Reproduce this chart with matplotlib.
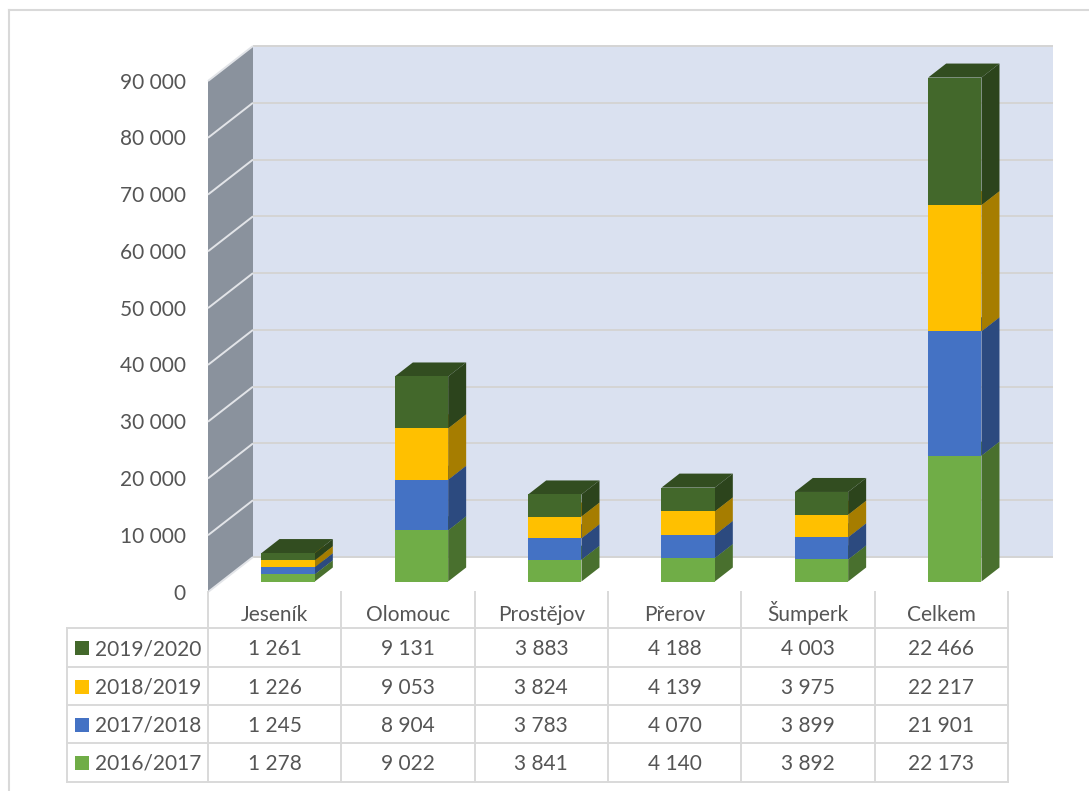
# plot.py
# 3D-look stacked columns (Excel style) with a data table underneath

import numpy as np
import matplotlib.pyplot as plt
import matplotlib.colors as mcolors
from matplotlib.patches import Polygon, Rectangle
from matplotlib.lines import Line2D

regions = ['Jeseník', 'Olomouc', 'Prostějov', 'Přerov', 'Šumperk', 'Celkem']
years = ['2016/2017', '2017/2018', '2018/2019', '2019/2020']
v1617 = [1278, 9022, 3841, 4140, 3892, 22173]
v1718 = [1245, 8904, 3783, 4070, 3899, 21901]
v1819 = [1226, 9053, 3824, 4139, 3975, 22217]
v1920 = [1261, 9131, 3883, 4188, 4003, 22466]
series = [v1617, v1718, v1819, v1920]
colors = ['#70AD47', '#4472C4', '#FFC000', '#43682B']
yticks = np.arange(0, 90001, 10000)

plt.rcParams['font.family'] = ['Lato', 'DejaVu Sans']
txt_col = '#555555'
line_col = '#D9D9D9'

# pixel layout of the front plane
px_cat = 133.33        # px per category
px_x0 = 208            # px of category -0.5
v_per_px = 90000 / 511  # value units per px
py_zero = 592          # px (from top) of value 0 on the front plane
W, H = 1089, 791

DX = 45 / px_cat       # depth shift in category units
DY = 35 * v_per_px     # depth shift in value units


def px2x(px):
    return -0.5 + (px - px_x0) / px_cat


def py2v(py):
    return (py_zero - py) * v_per_px


def proj(c, v, d):
    return (c + d * DX, v + d * DY)


def shade(col, f):
    r, g, b = mcolors.to_rgb(col)
    return (r * f, g * f, b * f)


fig = plt.figure(figsize=(W / 100, H / 100), dpi=100)
ax = fig.add_axes([0, 0, 1, 1])
ax.set_xlim(px2x(0), px2x(W))
ax.set_ylim(py2v(H), py2v(0))
ax.axis('off')

n = len(regions)
xl, xr = -0.5, n - 0.5
vmax = yticks[-1]

# walls
back = [proj(xl, 0, 1), proj(xr, 0, 1), proj(xr, vmax, 1), proj(xl, vmax, 1)]
ax.add_patch(Polygon(back, closed=True, fc='#DAE1F0', ec='none', zorder=1))
side = [proj(xl, 0, 0), proj(xl, 0, 1), proj(xl, vmax, 1), proj(xl, vmax, 0)]
ax.add_patch(Polygon(side, closed=True, fc='#8A929D', ec='none', zorder=1))

for t in yticks:
    a, b = proj(xl, t, 1), proj(xr, t, 1)
    ax.plot([a[0], b[0]], [a[1], b[1]], color='#D4D4D4', lw=1.4, zorder=2,
            solid_capstyle='butt')
    a, b = proj(xl, t, 0), proj(xl, t, 1)
    ax.plot([a[0], b[0]], [a[1], b[1]], color='#E2E4E8', lw=1.4, zorder=2,
            solid_capstyle='butt')
    ax.text(px2x(186), t - 7.5 * v_per_px, f'{t:,}'.replace(',', ' '),
            ha='right', va='baseline', fontsize=15, color=txt_col)

# bars
w = 0.4
f0, f1 = 0.3, 0.7
for i in range(n):
    c = i
    bottom = 0
    for s, col in zip(series, colors):
        top = bottom + s[i]
        front = [proj(c - w / 2, bottom, f0), proj(c + w / 2, bottom, f0),
                 proj(c + w / 2, top, f0), proj(c - w / 2, top, f0)]
        right = [proj(c + w / 2, bottom, f0), proj(c + w / 2, bottom, f1),
                 proj(c + w / 2, top, f1), proj(c + w / 2, top, f0)]
        lid = [proj(c - w / 2, top, f0), proj(c + w / 2, top, f0),
               proj(c + w / 2, top, f1), proj(c - w / 2, top, f1)]
        ax.add_patch(Polygon(lid, closed=True, fc=shade(col, 0.74), ec='none', zorder=3))
        ax.add_patch(Polygon(right, closed=True, fc=shade(col, 0.65), ec='none', zorder=3))
        ax.add_patch(Polygon(front, closed=True, fc=col, ec='none', zorder=3))
        bottom = top

# data table
tab_left = px2x(67)
row_lines = [628, 667, 705, 743, 782]
row_base = [655, 694, 732, 770]
for py in row_lines:
    ax.plot([tab_left, xr], [py2v(py)] * 2, color=line_col, lw=1.4, zorder=4,
            solid_capstyle='projecting')
for k in range(n + 1):
    xv = xl + k
    ax.plot([xv, xv], [py2v(592), py2v(782)], color=line_col, lw=1.4, zorder=4)
ax.plot([tab_left, tab_left], [py2v(628), py2v(782)], color=line_col, lw=1.4, zorder=4)

for i, name in enumerate(regions):
    ax.text(i, py2v(621), name, ha='center', va='baseline', fontsize=15, color=txt_col)

for r, (yr, s, col) in enumerate(zip(years[::-1], series[::-1], colors[::-1])):
    yb = py2v(row_base[r])
    ax.add_patch(Rectangle((px2x(75), yb), 14 / px_cat, 14 * v_per_px,
                           fc=col, ec='none', zorder=5))
    ax.text(px2x(95), yb, yr, ha='left', va='baseline', fontsize=15, color=txt_col)
    for i in range(n):
        ax.text(i, yb, f'{s[i]:,}'.replace(',', ' '), ha='center', va='baseline',
                fontsize=15, color=txt_col)

# chart frame (cropped on right/bottom)
fig.add_artist(Line2D([9 / W, 1], [1 - 10 / H, 1 - 10 / H], color=line_col, lw=1.5))
fig.add_artist(Line2D([9 / W, 9 / W], [0, 1 - 10 / H], color=line_col, lw=1.5))

fig.savefig('out.png', dpi=100)
